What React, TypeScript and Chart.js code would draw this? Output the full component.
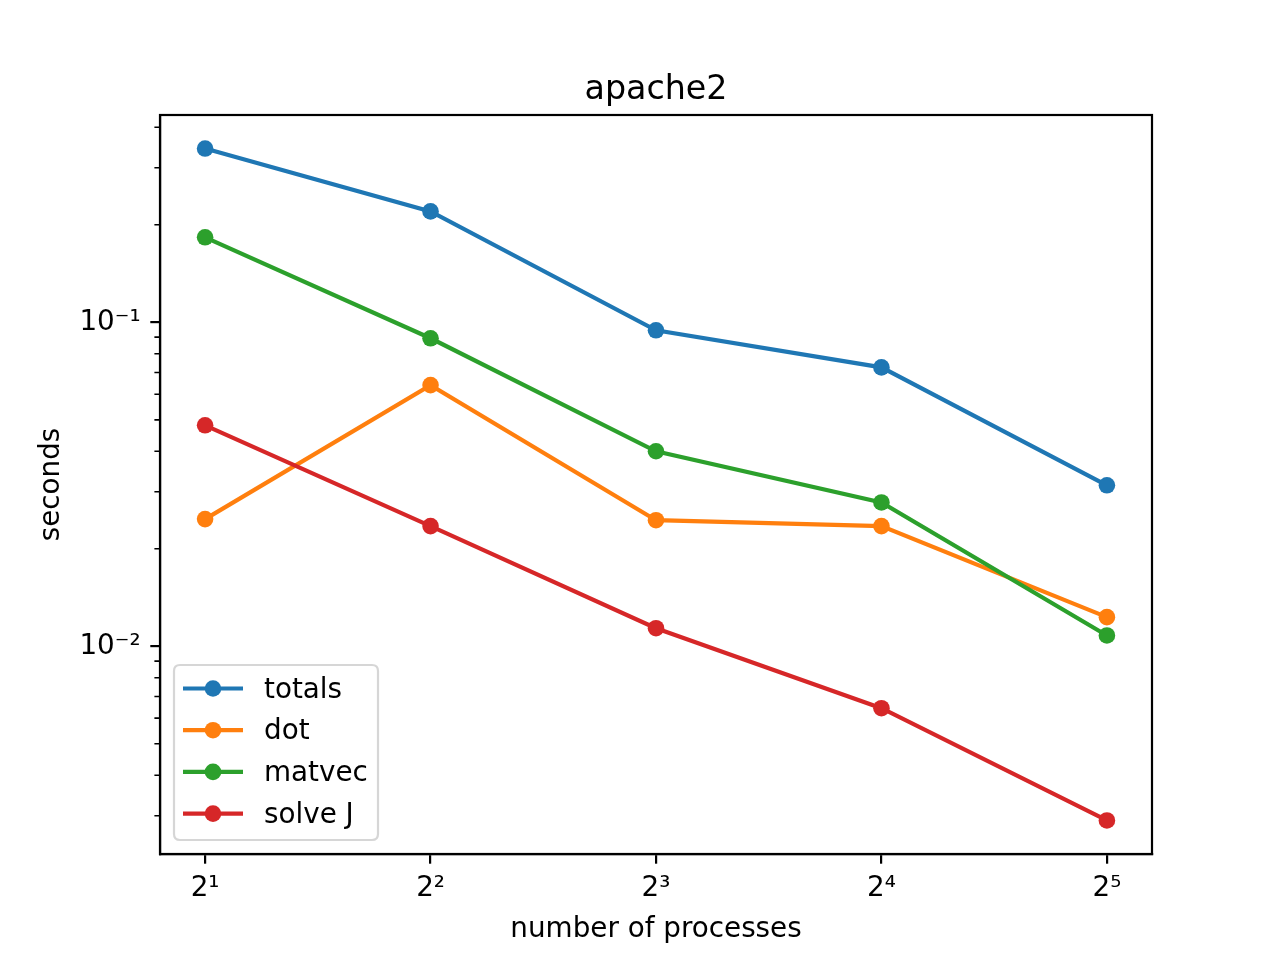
import React, { useEffect, useRef } from "react";
import { Chart, registerables } from "chart.js";

Chart.register(...registerables);

const processes = [2, 4, 8, 16, 32];
const xTickLabels = ["2¹", "2²", "2³", "2⁴", "2⁵"];
const totals = [0.344, 0.22, 0.0945, 0.0726, 0.0314];
const dot = [0.0247, 0.064, 0.0245, 0.0235, 0.0123];
const matvec = [0.183, 0.0893, 0.04, 0.0278, 0.0108];
const solveJ = [0.0481, 0.0235, 0.01137, 0.00644, 0.0029];
const seriesNames = ["totals", "dot", "matvec", "solve J"];
const seriesColors = ["#1f77b4", "#ff7f0e", "#2ca02c", "#d62728"];
const yTickValues = [0.01, 0.1];
const yTickLabels = ["10⁻²", "10⁻¹"];
const yMinorTicks = [0.003, 0.004, 0.005, 0.006, 0.007, 0.008, 0.009, 0.02, 0.03, 0.04, 0.05, 0.06, 0.07, 0.08, 0.09, 0.2, 0.3, 0.4];
const chartTitle = "apache2";

const FONT = "'DejaVu Sans', sans-serif";
const FS = 27.8;

const framePlugin = {
  id: "framePlugin",
  afterDatasetsDraw(chart: any) {
    const { ctx, chartArea } = chart;
    const y = chart.scales.y;
    ctx.save();
    ctx.strokeStyle = "#000";
    // minor ticks
    ctx.lineWidth = 1.6;
    ctx.beginPath();
    yMinorTicks.forEach((v) => {
      const py = y.getPixelForValue(v);
      ctx.moveTo(chartArea.left, py);
      ctx.lineTo(chartArea.left - 5.6, py);
    });
    ctx.stroke();
    ctx.lineWidth = 2.2;
    ctx.strokeRect(chartArea.left, chartArea.top, chartArea.right - chartArea.left, chartArea.bottom - chartArea.top);

    // title
    ctx.fillStyle = "#000";
    ctx.font = `33.3px ${FONT}`;
    ctx.textAlign = "center";
    ctx.textBaseline = "alphabetic";
    ctx.fillText(chartTitle, (chartArea.left + chartArea.right) / 2, 99);

    // legend
    const bx = 174, by = 665, bw = 204, bh = 175, r = 6;
    ctx.beginPath();
    ctx.moveTo(bx + r, by);
    ctx.lineTo(bx + bw - r, by);
    ctx.quadraticCurveTo(bx + bw, by, bx + bw, by + r);
    ctx.lineTo(bx + bw, by + bh - r);
    ctx.quadraticCurveTo(bx + bw, by + bh, bx + bw - r, by + bh);
    ctx.lineTo(bx + r, by + bh);
    ctx.quadraticCurveTo(bx, by + bh, bx, by + bh - r);
    ctx.lineTo(bx, by + r);
    ctx.quadraticCurveTo(bx, by, bx + r, by);
    ctx.closePath();
    ctx.fillStyle = "rgba(255,255,255,0.8)";
    ctx.fill();
    ctx.strokeStyle = "rgba(204,204,204,0.8)";
    ctx.lineWidth = 2.2;
    ctx.stroke();
    chart.data.datasets.forEach((ds: any, i: number) => {
      const ry = 688.5 + i * 41.7;
      ctx.strokeStyle = ds.borderColor;
      ctx.lineWidth = 4.2;
      ctx.beginPath();
      ctx.moveTo(183, ry);
      ctx.lineTo(243, ry);
      ctx.stroke();
      ctx.fillStyle = ds.borderColor;
      ctx.beginPath();
      ctx.arc(213, ry, 8.3, 0, Math.PI * 2);
      ctx.fill();
      ctx.fillStyle = "#000";
      ctx.font = `${FS}px ${FONT}`;
      ctx.textBaseline = "middle";
      ctx.textAlign = "left";
      ctx.fillText(ds.label, 264, ry + 2);
    });
    ctx.restore();
  },
};

export default function App() {
  const ref = useRef<HTMLCanvasElement>(null);
  useEffect(() => {
    document.body.style.margin = "0";
    const all = [totals, dot, matvec, solveJ];
    const chart = new Chart(ref.current as HTMLCanvasElement, {
      type: "line",
      data: {
        datasets: all.map((vals, i) => ({
          label: seriesNames[i],
          data: processes.map((x, j) => ({ x, y: vals[j] })),
          borderColor: seriesColors[i],
          backgroundColor: seriesColors[i],
          pointBackgroundColor: seriesColors[i],
          pointBorderColor: seriesColors[i],
          pointBorderWidth: 0,
          pointRadius: 8.3,
          borderWidth: 4.2,
          tension: 0,
          fill: false,
          order: 3 - i,
        })),
      },
      plugins: [framePlugin],
      options: {
        animation: false,
        responsive: false,
        devicePixelRatio: 1,
        layout: { padding: { left: 0, right: 128, top: 115, bottom: 0 } },
        plugins: {
          legend: { display: false },
          tooltip: { enabled: false },
          title: { display: false },
        },
        scales: {
          x: {
            type: "logarithmic",
            min: Math.pow(2, 0.8),
            max: Math.pow(2, 5.2),
            afterBuildTicks: (scale: any) => {
              scale.ticks = processes.map((v) => ({ value: v }));
            },
            afterFit: (scale: any) => {
              scale.height = 106;
            },
            ticks: {
              color: "#000",
              font: { family: FONT, size: FS },
              padding: 8,
              maxRotation: 0,
              autoSkip: false,
              callback: (v: any) => {
                const i = processes.indexOf(Number(v));
                return i >= 0 ? xTickLabels[i] : "";
              },
            },
            grid: { display: true, drawOnChartArea: false, drawTicks: true, tickLength: 9.7, color: "#000", lineWidth: 2.2 },
            border: { display: true, color: "#000", width: 2.2 },
            title: {
              display: true,
              text: "number of processes",
              color: "#000",
              font: { family: FONT, size: FS },
              padding: { top: 0, bottom: 14 },
            },
          },
          y: {
            type: "logarithmic",
            min: 0.002285,
            max: 0.4365,
            afterBuildTicks: (scale: any) => {
              scale.ticks = yTickValues.map((v) => ({ value: v }));
            },
            afterFit: (scale: any) => {
              scale.width = 160;
            },
            ticks: {
              color: "#000",
              font: { family: FONT, size: FS },
              padding: 9.7,
              autoSkip: false,
              callback: (v: any) => {
                const i = yTickValues.indexOf(Number(v));
                return i >= 0 ? yTickLabels[i] : "";
              },
            },
            grid: { display: true, drawOnChartArea: false, drawTicks: true, tickLength: 9.7, color: "#000", lineWidth: 2.2 },
            border: { display: true, color: "#000", width: 2.2 },
            title: {
              display: true,
              text: "seconds",
              color: "#000",
              font: { family: FONT, size: FS },
              padding: { top: 35, bottom: 0 },
            },
          },
        },
      } as any,
    });
    return () => chart.destroy();
  }, []);
  return <canvas ref={ref} width={1280} height={960} style={{ display: "block" }} />;
}
